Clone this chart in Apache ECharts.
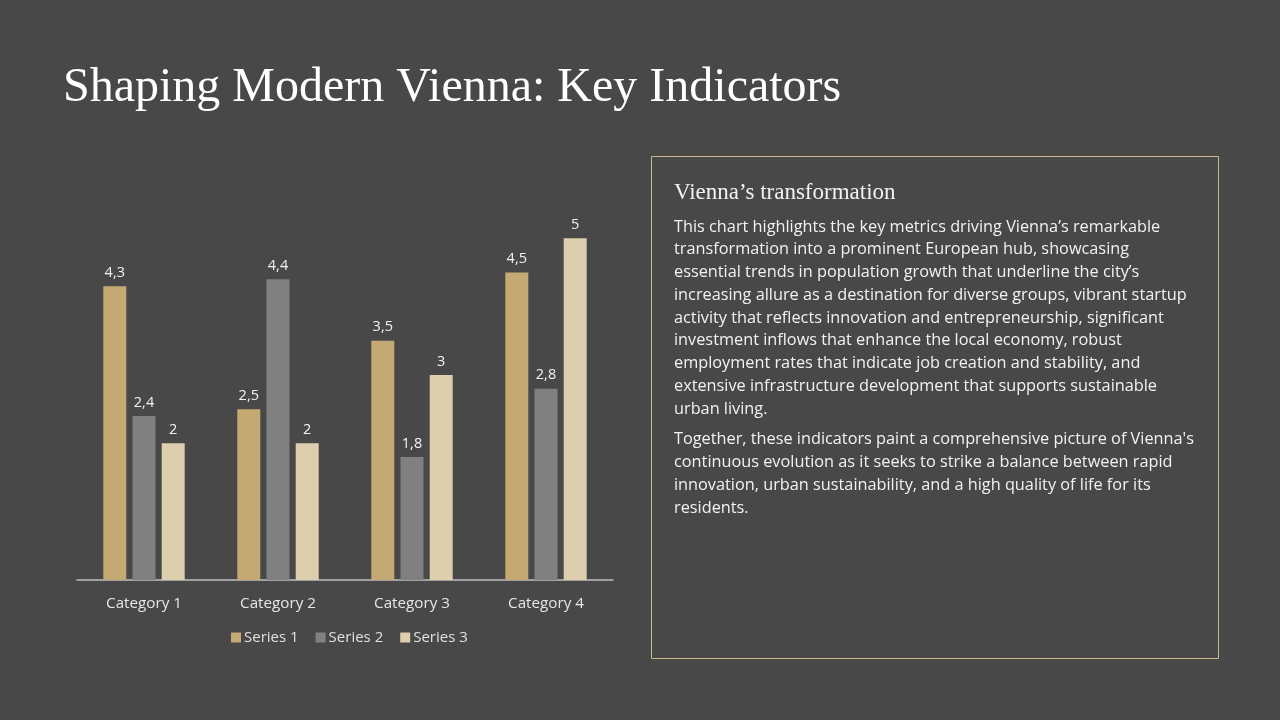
<!DOCTYPE html>
<html>
<head>
<meta charset="utf-8">
<script src="https://cdn.jsdelivr.net/npm/echarts@6/dist/echarts.min.js"></script>
<style>
html,body{margin:0;padding:0;background:#484848;}
#main{width:1280px;height:720px;}
</style>
</head>
<body>
<div id="main"></div>
<script>
const categories = ['Category 1', 'Category 2', 'Category 3', 'Category 4'];
const seriesNames = ['Series 1', 'Series 2', 'Series 3'];
const series1 = [4.3, 2.5, 3.5, 4.5];
const series2 = [2.4, 4.4, 1.8, 2.8];
const series3 = [2, 2, 3, 5];
const titleText = 'Shaping Modern Vienna: Key Indicators';
const boxHeading = 'Vienna\u2019s transformation';
const para1 = [
  'This chart highlights the key metrics driving Vienna\u2019s remarkable',
  'transformation into a prominent European hub, showcasing',
  'essential trends in population growth that underline the city\u2019s',
  'increasing allure as a destination for diverse groups, vibrant startup',
  'activity that reflects innovation and entrepreneurship, significant',
  'investment inflows that enhance the local economy, robust',
  'employment rates that indicate job creation and stability, and',
  'extensive infrastructure development that supports sustainable',
  'urban living.'
];
const para2 = [
  'Together, these indicators paint a comprehensive picture of Vienna\'s',
  'continuous evolution as it seeks to strike a balance between rapid',
  'innovation, urban sustainability, and a high quality of life for its',
  'residents.'
];

const colors = ['#C4A973', '#808080', '#DDCFAE'];
const chart = echarts.init(document.getElementById('main'));
const sans = '"Open Sans", "Noto Sans", sans-serif';
const serif = '"Liberation Serif", "DejaVu Serif", serif';

function mk(name, data, color) {
  return {
    name: name, type: 'bar', data: data, barWidth: 23, barGap: '27%',
    itemStyle: { color: color },
    label: {
      show: true, position: 'top', distance: 6, color: '#F2F2F2',
      fontFamily: sans, fontSize: 14.5,
      formatter: p => String(p.value).replace('.', ',')
    }
  };
}

const bodyFont = '16.3px ' + sans;
const bodyLines = [];
let y = 219;
para1.forEach(t => { bodyLines.push({ type: 'text', left: 674, top: y, style: { text: t, fill: '#F2F2F2', font: bodyFont } }); y += 22.75; });
y += 7.5;
para2.forEach(t => { bodyLines.push({ type: 'text', left: 674, top: y, style: { text: t, fill: '#F2F2F2', font: bodyFont } }); y += 22.9; });

chart.setOption({
  backgroundColor: '#484848',
  animation: false,
  title: {
    text: titleText, left: 58, top: 59,
    textStyle: { color: '#FFFFFF', fontFamily: serif, fontWeight: 'normal', fontSize: 48 }
  },
  legend: {
    data: seriesNames, bottom: 70, left: 226,
    itemWidth: 10, itemHeight: 10, itemGap: 17,
    icon: 'rect',
    textStyle: { color: '#E0E0E0', fontFamily: sans, fontSize: 15, padding: [0, 0, 0, -2] }
  },
  grid: { left: 77, right: 667, top: 170, bottom: 140, containLabel: false },
  xAxis: {
    type: 'category', data: categories,
    axisLine: { lineStyle: { color: '#BFBFBF', width: 1.5 } },
    axisTick: { show: false },
    axisLabel: { color: '#E6E6E6', fontFamily: sans, fontSize: 15.2, margin: 16 }
  },
  yAxis: {
    type: 'value', min: 0, max: 6, interval: 1, show: false,
    splitLine: { show: false }
  },
  series: [mk(seriesNames[0], series1, colors[0]), mk(seriesNames[1], series2, colors[1]), mk(seriesNames[2], series3, colors[2])],
  graphic: [
    { type: 'rect', shape: { x: 651.5, y: 156.5, width: 567, height: 502 }, style: { fill: 'none', stroke: '#C9B98F', lineWidth: 1 } },
    { type: 'text', left: 674, top: 181, style: { text: boxHeading, fill: '#F2F2F2', font: '23px ' + serif } }
  ].concat(bodyLines)
});
</script>
</body>
</html>
